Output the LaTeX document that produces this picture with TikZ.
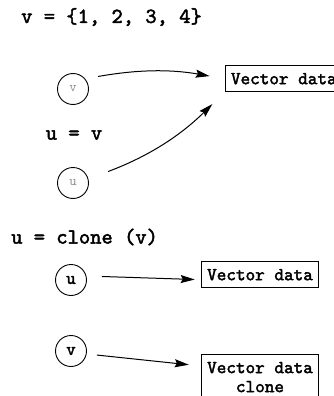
\documentclass[tikz,border=0pt]{standalone}
\usepackage{fontspec}
\setmonofont{lmmono10-regular.otf}[
  BoldFont=lmmono10-regular.otf,
  BoldFeatures={FakeBold=2.2}]
\usetikzlibrary{arrows.meta,positioning}
\definecolor{refgray}{HTML}{8C8C8C}

\begin{document}
\begin{tikzpicture}[
  x=1pt, y=-1pt,
  stmt/.style  ={font=\fontsize{21.5}{24}\selectfont\ttfamily\bfseries,inner sep=0pt},
  varc/.style  ={draw,circle,line width=0.9pt,minimum size=31pt,inner sep=0pt},
  vara/.style  ={varc,font=\fontsize{14}{16}\selectfont\ttfamily,text=refgray},
  varb/.style  ={varc,font=\fontsize{18}{20}\selectfont\ttfamily\bfseries},
  vecbox/.style={draw,line width=0.9pt,align=center,minimum height=26pt,
                 inner xsep=6pt,inner ysep=4pt,
                 font=\fontsize{18.3}{19}\selectfont\ttfamily\bfseries},
  ptr/.style   ={-{Stealth[length=14pt,width=8pt,inset=2pt]},line width=1pt},
]
\useasboundingbox (0,0) rectangle (334,396);
%% Shared: u = v
\node[stmt,anchor=west] (init) at (21,17) {v = \{1, 2, 3, 4\}};
\node[vara] (v1) at (73,89)  {v};
\node[stmt] (assign) at (74,135) {u = v};
\node[vara] (u1) at (73,183) {u};
\node[vecbox,anchor=west] (vd1) at (224.5,78.7) {Vector data};
\draw[ptr,shorten <=13pt,shorten >=15pt] (v1.40) to[bend left=10] (vd1.west);
\draw[ptr,shorten <=21pt,shorten >=17pt] (u1.15) to[bend right=12] (vd1.south west);
%% Copy: u = clone (v)
\node[stmt,anchor=west] (copy) at (11,237) {u = clone (v)};
\node[varb] (u2) at (71,280) {u};
\node[varb] (v2) at (71,351) {v};
\node[vecbox] (vd2) at (260,274.7) {Vector data};
\node[vecbox,anchor=north,inner ysep=7.5pt] (vd3) at (260,354) {Vector data\\clone};
\draw[ptr,shorten <=15pt,shorten >=6pt] ([yshift=4pt]u2.east) -- ([yshift=-5pt]vd2.west);
\draw[ptr,shorten <=10pt,shorten >=12pt] ([yshift=-3pt]v2.east) -- ([yshift=-12pt]vd3.north west);
\end{tikzpicture}
\end{document}
